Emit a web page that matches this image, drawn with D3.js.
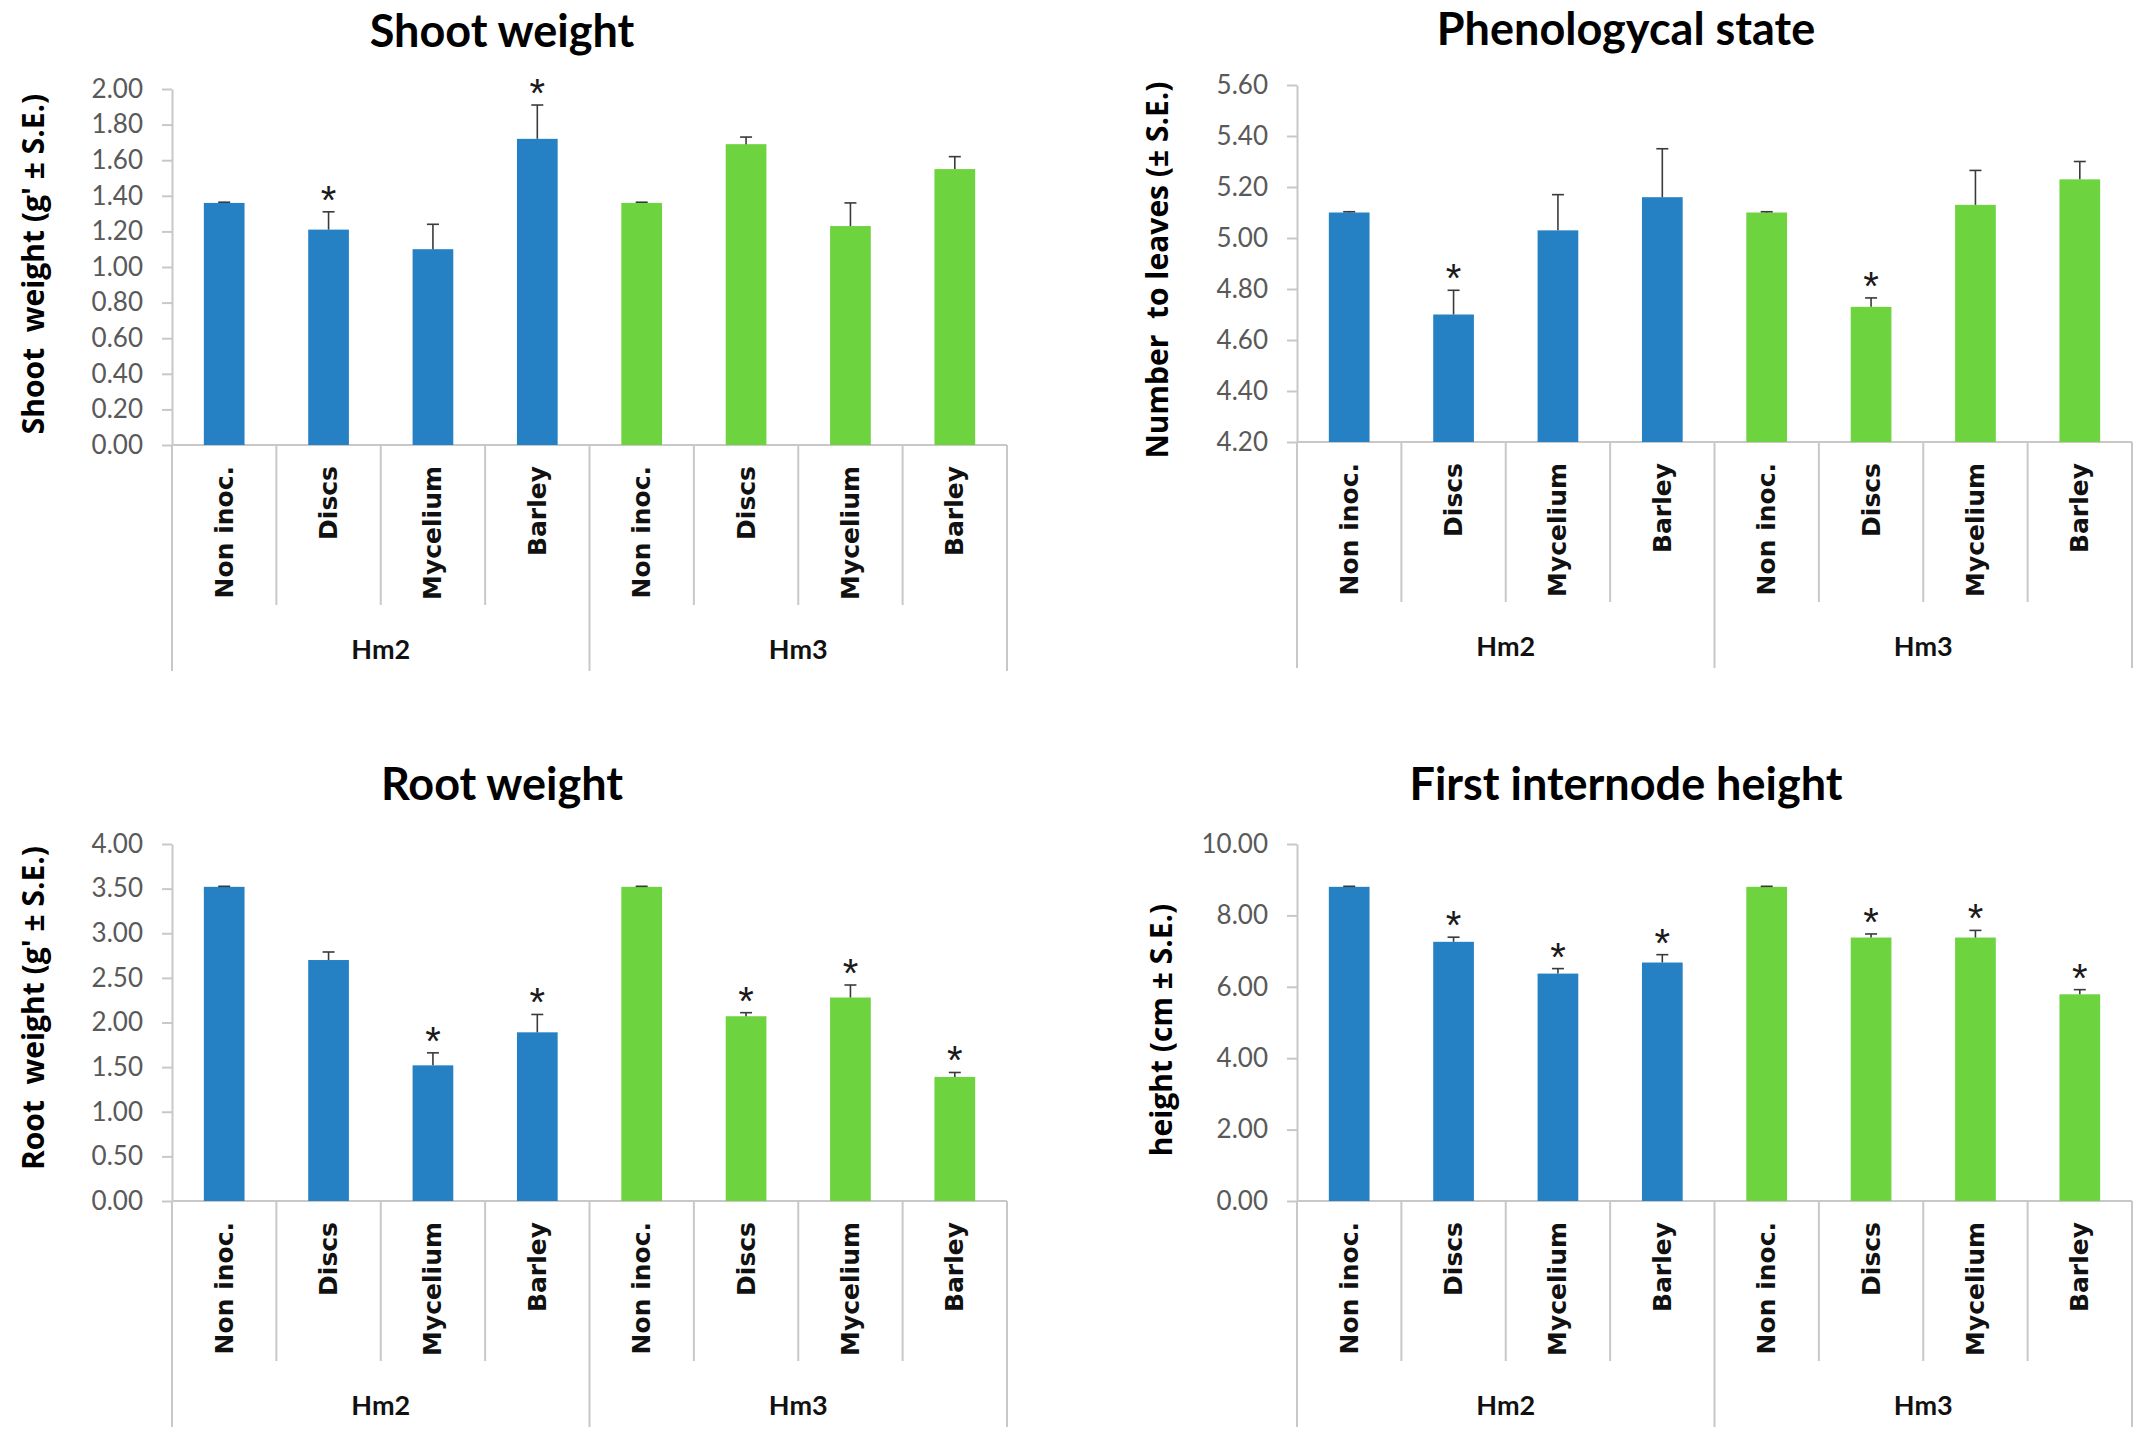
<!DOCTYPE html>
<html>
<head>
<meta charset="utf-8">
<script src="https://cdn.jsdelivr.net/npm/d3@7"></script>
<style>
  html, body { margin: 0; padding: 0; background: #ffffff; }
  svg { display: block; }
</style>
</head>
<body>
<svg id="chart" width="2146" height="1451"></svg>
<script>
// ---------------- DATA ----------------
const categories = ["Non inoc.", "Discs", "Mycelium", "Barley"];
const groups = ["Hm2", "Hm3"];

const shootMeans = [1.36, 1.21, 1.10, 1.72, 1.36, 1.69, 1.23, 1.55];
const shootSE    = [0.004, 0.10, 0.14, 0.19, 0.004, 0.04, 0.13, 0.07];
const shootSig   = [0, 1, 0, 1, 0, 0, 0, 0];
const shootTicks = [0, 0.2, 0.4, 0.6, 0.8, 1.0, 1.2, 1.4, 1.6, 1.8, 2.0];

const phenoMeans = [5.10, 4.70, 5.03, 5.16, 5.10, 4.73, 5.13, 5.23];
const phenoSE    = [0.003, 0.095, 0.14, 0.19, 0.003, 0.035, 0.135, 0.07];
const phenoSig   = [0, 1, 0, 0, 0, 1, 0, 0];
const phenoTicks = [4.2, 4.4, 4.6, 4.8, 5.0, 5.2, 5.4, 5.6];

const rootMeans = [3.52, 2.70, 1.52, 1.89, 3.52, 2.07, 2.28, 1.39];
const rootSE    = [0.006, 0.09, 0.14, 0.20, 0.006, 0.04, 0.14, 0.05];
const rootSig   = [0, 0, 1, 1, 0, 1, 1, 1];
const rootTicks = [0, 0.5, 1.0, 1.5, 2.0, 2.5, 3.0, 3.5, 4.0];

const internodeMeans = [8.80, 7.26, 6.37, 6.68, 8.80, 7.38, 7.38, 5.79];
const internodeSE    = [0.015, 0.13, 0.14, 0.22, 0.015, 0.10, 0.20, 0.13];
const internodeSig   = [0, 1, 1, 1, 0, 1, 1, 1];
const internodeTicks = [0, 2, 4, 6, 8, 10];

const titles  = ["Shoot weight", "Phenologycal state", "Root weight", "First internode height"];
const yTitles = ["Shoot  weight (g' \u00B1 S.E.)", "Number  to leaves (\u00B1 S.E.)", "Root  weight (g' \u00B1 S.E.)", "height (cm \u00B1 S.E.)"];

// ---------------- STYLE / LAYOUT ----------------
const groupColors = ["#2681c4", "#6dd33f"];
const gridGray = "#c8c8c8";

const panels = [
  { means: shootMeans, se: shootSE, sig: shootSig, ticks: shootTicks, title: titles[0], ytitle: yTitles[0],
    x0: 172, x1: 1007, yTop: 89, yBot: 445, tx: 502, ty: 47, yx: 32, yy: 264 },
  { means: phenoMeans, se: phenoSE, sig: phenoSig, ticks: phenoTicks, title: titles[1], ytitle: yTitles[1],
    x0: 1297, x1: 2132, yTop: 85, yBot: 442, tx: 1626, ty: 45, yx: 1156, yy: 270 },
  { means: rootMeans, se: rootSE, sig: rootSig, ticks: rootTicks, title: titles[2], ytitle: yTitles[2],
    x0: 172, x1: 1007, yTop: 844, yBot: 1201, tx: 502, ty: 800, yx: 32, yy: 1008 },
  { means: internodeMeans, se: internodeSE, sig: internodeSig, ticks: internodeTicks, title: titles[3], ytitle: yTitles[3],
    x0: 1297, x1: 2132, yTop: 844, yBot: 1201, tx: 1626, ty: 800, yx: 1160, yy: 1030 }
];

const svg = d3.select("#chart");
const fmt = d3.format(".2f");

// full list of (group, category) keys
const keys = [];
groups.forEach((g, gi) => categories.forEach((c, ci) => keys.push({ g, gi, c, ci, k: g + "|" + c })));

panels.forEach(p => {
  const gP = svg.append("g");

  const x = d3.scaleBand()
    .domain(keys.map(d => d.k))
    .range([p.x0, p.x1])
    .paddingInner(0.61)
    .paddingOuter(0.305);
  const step = x.step();

  const y = d3.scaleLinear()
    .domain([p.ticks[0], p.ticks[p.ticks.length - 1]])
    .range([p.yBot, p.yTop]);

  // y axis
  const yAxis = d3.axisLeft(y)
    .tickValues(p.ticks)
    .tickFormat(fmt)
    .tickSizeInner(10)
    .tickSizeOuter(0)
    .tickPadding(19);
  const ya = gP.append("g").attr("transform", `translate(${p.x0},0)`).call(yAxis);
  ya.select(".domain").attr("stroke", gridGray).attr("stroke-width", 2);
  ya.selectAll(".tick line").attr("stroke", gridGray).attr("stroke-width", 2);
  ya.selectAll(".tick text")
    .attr("fill", "#595959")
    .style("font-family", "Lato, 'Liberation Sans', sans-serif")
    .style("font-size", "26px");

  // baseline
  gP.append("line")
    .attr("x1", p.x0).attr("x2", p.x1)
    .attr("y1", y(p.ticks[0])).attr("y2", y(p.ticks[0]))
    .attr("stroke", gridGray).attr("stroke-width", 2);

  // category separators
  d3.range(keys.length + 1).forEach(i => {
    const isGroup = (i % categories.length === 0);
    const xx = p.x0 + i * step;
    gP.append("line")
      .attr("x1", xx).attr("x2", xx)
      .attr("y1", p.yBot).attr("y2", p.yBot + (isGroup ? 226 : 160))
      .attr("stroke", gridGray).attr("stroke-width", 2);
  });

  // bars
  const data = keys.map((d, i) => ({ ...d, v: p.means[i], e: p.se[i], s: p.sig[i] }));
  gP.selectAll("rect.bar").data(data).join("rect")
    .attr("class", "bar")
    .attr("x", d => x(d.k))
    .attr("width", x.bandwidth())
    .attr("y", d => y(d.v))
    .attr("height", d => y(p.ticks[0]) - y(d.v))
    .attr("fill", d => groupColors[d.gi]);

  // error bars (upper only)
  const cx = d => x(d.k) + x.bandwidth() / 2;
  gP.selectAll("line.err").data(data).join("line")
    .attr("class", "err")
    .attr("x1", cx).attr("x2", cx)
    .attr("y1", d => y(d.v)).attr("y2", d => y(d.v + d.e))
    .attr("stroke", "#3a3a3a").attr("stroke-width", 1.6);
  gP.selectAll("line.cap").data(data).join("line")
    .attr("class", "cap")
    .attr("x1", d => cx(d) - 6).attr("x2", d => cx(d) + 6)
    .attr("y1", d => y(d.v + d.e)).attr("y2", d => y(d.v + d.e))
    .attr("stroke", "#3a3a3a").attr("stroke-width", 1.6);

  // significance stars
  gP.selectAll("text.star").data(data.filter(d => d.s)).join("text")
    .attr("class", "star")
    .attr("x", cx)
    .attr("y", d => y(d.v + d.e) + 2)
    .attr("text-anchor", "middle")
    .attr("fill", "#1a1a1a")
    .style("font-family", "'Liberation Sans', Arial, sans-serif")
    .style("font-size", "40px")
    .text("*");

  // category labels (rotated)
  gP.selectAll("text.cat").data(data).join("text")
    .attr("class", "cat")
    .attr("transform", d => `translate(${cx(d)},${p.yBot + 21}) rotate(-90)`)
    .attr("text-anchor", "end")
    .attr("dominant-baseline", "central")
    .attr("fill", "#111")
    .style("font-family", "'DejaVu Sans', sans-serif")
    .style("font-weight", "bold")
    .style("font-size", "25px")
    .text(d => d.c);

  // group labels
  groups.forEach((g, gi) => {
    const gx = p.x0 + (gi * categories.length + categories.length / 2) * step;
    gP.append("text")
      .attr("x", gx).attr("y", p.yBot + 214)
      .attr("text-anchor", "middle")
      .attr("fill", "#111")
      .style("font-family", "Lato, sans-serif")
      .style("font-weight", "bold")
      .style("font-size", "27px")
      .text(g);
  });

  // title
  gP.append("text")
    .attr("x", p.tx).attr("y", p.ty)
    .attr("text-anchor", "middle")
    .attr("fill", "#000")
    .style("font-family", "Lato, sans-serif")
    .style("font-weight", "bold")
    .style("font-size", "45px")
    .text(p.title);

  // y title
  gP.append("text")
    .attr("transform", `translate(${p.yx},${p.yy}) rotate(-90)`)
    .attr("text-anchor", "middle")
    .attr("dominant-baseline", "central")
    .attr("fill", "#000")
    .attr("xml:space", "preserve")
    .style("white-space", "pre")
    .style("font-family", "'Open Sans', sans-serif")
    .style("font-weight", "bold")
    .style("font-size", "30px")
    .text(p.ytitle);
});
</script>
</body>
</html>
